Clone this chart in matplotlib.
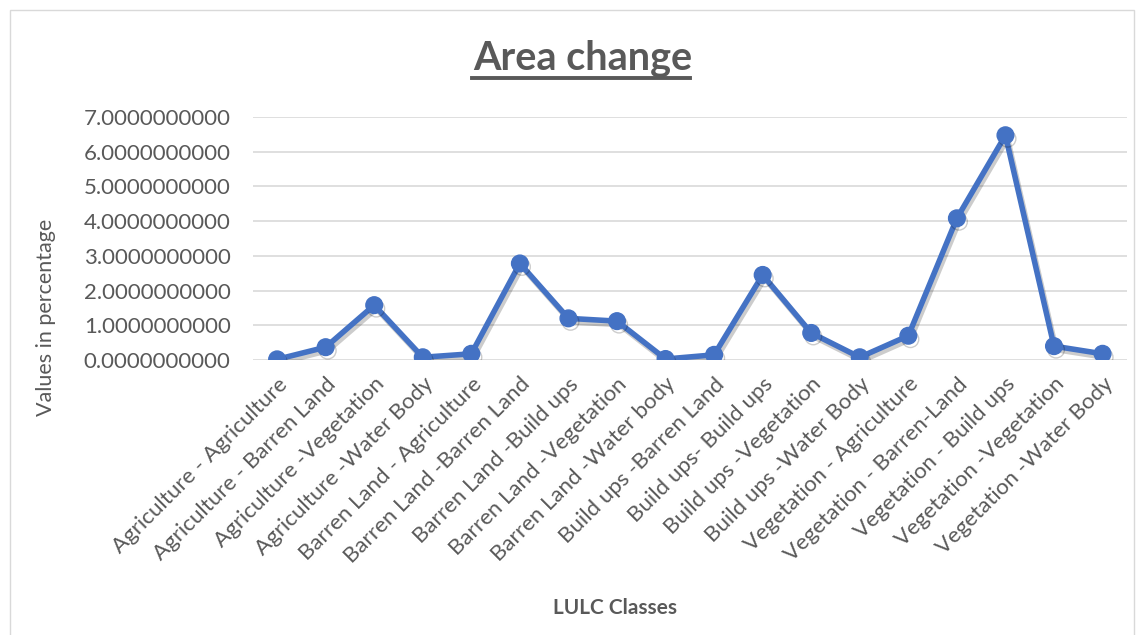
import matplotlib
matplotlib.use('Agg')
import matplotlib.pyplot as plt
import matplotlib.patheffects as pe
from matplotlib.patches import Rectangle
from matplotlib.ticker import FormatStrFormatter

plt.rcParams['font.family'] = ['Lato', 'DejaVu Sans']

# Classes de changement LULC
classes = [
    'Agriculture - Agriculture', 'Agriculture - Barren Land',
    'Agriculture -Vegetation', 'Agriculture -Water Body',
    'Barren Land - Agriculture', 'Barren Land -Barren Land',
    'Barren Land -Build ups', 'Barren Land -Vegetation',
    'Barren Land -Water body', 'Build ups -Barren Land',
    'Build ups- Build ups', 'Build ups -Vegetation',
    'Build ups -Water Body', 'Vegetation - Agriculture',
    'Vegetation - Barren-Land', 'Vegetation - Build ups',
    'Vegetation -Vegetation', 'Vegetation -Water Body',
]
# Valeurs (%)
values = [0.02, 0.37, 1.58, 0.08, 0.18, 2.78, 1.20, 1.12, 0.03,
          0.15, 2.45, 0.78, 0.08, 0.70, 4.08, 6.47, 0.40, 0.18]
yticks = [0, 1, 2, 3, 4, 5, 6, 7]

grey = '#595959'
blue = '#4472C4'

fig = plt.figure(figsize=(11.44, 6.35), dpi=100)
ax = fig.add_axes([0.221, 0.433, 0.764, 0.383])

x = range(len(classes))
ax.plot(x, values, color=blue, lw=4, marker='o', ms=12,
        solid_capstyle='round', zorder=3,
        path_effects=[pe.SimpleLineShadow(offset=(1.5, -2.5), alpha=0.2),
                      pe.Normal()])

ax.set_xlim(-0.5, len(classes) - 0.5)
ax.set_ylim(0, 7)
ax.set_yticks(yticks)
ax.yaxis.set_major_formatter(FormatStrFormatter('%.10f'))
ax.grid(axis='y', color='#d9d9d9', lw=1.2)
ax.set_axisbelow(True)
for s in ax.spines.values():
    s.set_visible(False)
ax.tick_params(length=0, colors=grey)
ax.tick_params(axis='y', pad=16, labelsize=16)
ax.set_xticks(list(x))
ax.set_xticklabels(classes, rotation=45, ha='right', rotation_mode='anchor',
                   fontsize=16, color=grey)
ax.tick_params(axis='x', pad=10)

fig.text(0.509, 0.908, 'Area change', ha='center', va='center',
         fontsize=28.5, fontweight='bold', color=grey)
fig.add_artist(plt.Line2D([0.413, 0.603], [0.877, 0.877], color=grey, lw=2.8))
fig.text(0.04, 0.5, 'Values in percentage', rotation=90, ha='center',
         va='center', fontsize=15.5, color=grey)
fig.text(0.538, 0.043, 'LULC Classes', ha='center', va='center',
         fontsize=15, fontweight='bold', color=grey)

fig.add_artist(Rectangle((0.009, -0.01), 0.982, 0.995, transform=fig.transFigure,
                         fill=False, edgecolor='#d9d9d9', lw=1))

fig.savefig('out.png', dpi=100)
